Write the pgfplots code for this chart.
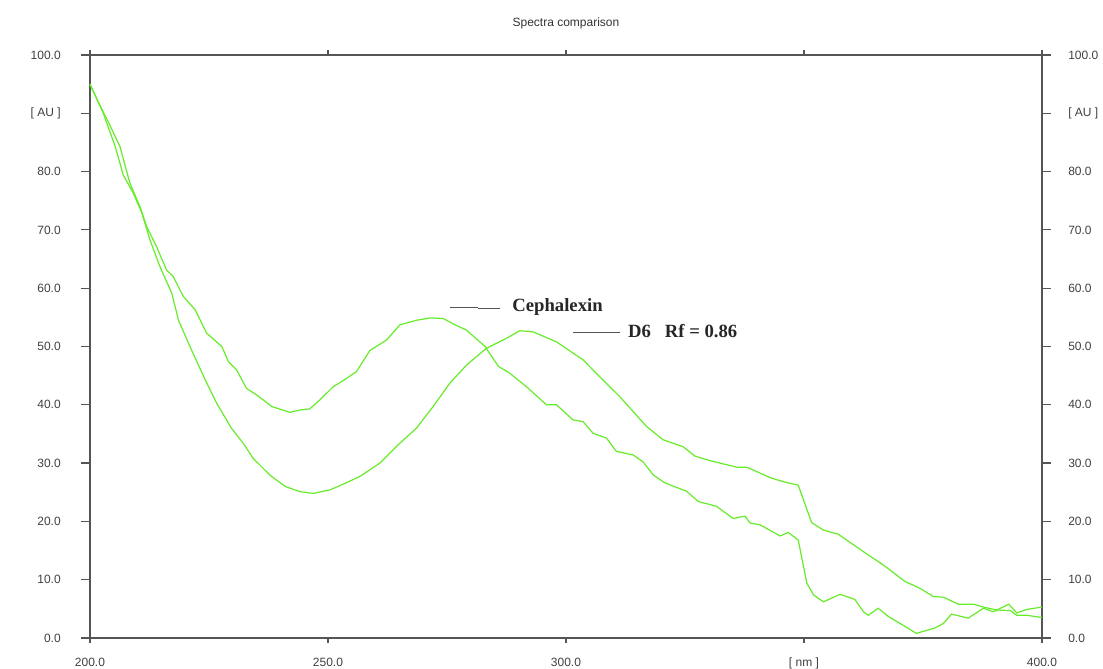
\documentclass[border=0pt]{standalone}
\usepackage{pgfplots}
\pgfplotsset{compat=1.18}
\usepackage{fontspec}
\setmainfont{Liberation Sans}
\newfontfamily\timesb{Liberation Serif}
\definecolor{spec}{RGB}{102,236,40}
\definecolor{axgray}{RGB}{85,85,85}

\pgfplotstableread{
x y
200.0 95.0
202.0 91.5
203.8 88.6
206.3 84.3
208.4 78.0
210.5 74.0
211.9 70.6
214.0 67.1
216.1 63.1
217.5 62.0
219.6 58.6
222.1 56.3
224.5 52.3
227.7 50.0
229.1 47.4
230.8 46.0
232.9 42.8
235.0 41.7
238.2 39.7
242.0 38.7
244.1 39.1
246.2 39.3
248.5 41.0
251.1 43.1
253.5 44.3
256.0 45.7
258.8 49.3
262.3 51.1
265.1 53.7
268.6 54.5
271.5 54.9
274.2 54.8
276.5 53.8
279.1 52.8
283.0 50.0
285.8 46.6
288.2 45.4
291.7 43.1
295.9 40.0
298.0 40.0
301.5 37.4
303.6 37.1
305.7 35.1
308.5 34.3
310.6 32.0
314.1 31.4
316.2 30.2
318.3 28.0
320.4 26.8
321.1 26.5
324.6 25.4
325.3 25.2
327.8 23.4
331.6 22.6
335.1 20.5
337.6 20.9
338.7 19.7
340.8 19.4
345.0 17.5
346.7 18.1
348.8 16.8
350.6 9.4
352.0 7.4
354.1 6.2
357.6 7.5
360.7 6.6
362.5 4.5
363.5 3.9
365.6 5.1
367.7 3.7
370.8 2.2
373.6 0.8
377.5 1.7
379.3 2.5
381.0 4.1
384.5 3.4
387.7 5.1
389.8 4.5
393.0 5.8
394.7 4.3
396.8 4.9
400.0 5.3
}\cephalexin

\pgfplotstableread{
x y
200.0 95.0
202.8 90.0
205.3 84.3
207.0 79.4
209.1 76.3
210.9 72.9
212.6 68.3
214.7 63.7
217.2 59.1
218.6 54.5
221.0 50.0
224.2 44.3
226.6 40.3
229.7 36.0
232.2 33.4
234.3 30.8
238.0 27.8
241.0 26.0
244.1 25.1
246.9 24.8
250.4 25.4
253.5 26.5
256.7 27.7
260.9 30.0
265.1 33.4
268.6 36.0
272.1 39.7
275.6 43.7
279.1 46.8
283.3 49.7
287.5 51.4
290.3 52.7
293.1 52.5
298.0 50.8
303.6 47.7
307.1 44.8
311.3 41.4
316.9 36.3
320.4 34.0
324.6 32.8
327.1 31.2
330.3 30.4
335.9 29.3
338.0 29.3
342.9 27.5
345.7 26.8
348.8 26.2
349.9 23.7
351.6 19.8
354.1 18.5
357.2 17.8
362.5 14.8
366.7 12.5
371.2 9.7
374.4 8.5
377.2 7.1
379.3 7.0
382.4 5.8
385.6 5.8
387.7 5.3
390.5 4.8
393.3 4.7
394.7 3.9
396.8 3.9
400.0 3.5
}\dsix

\begin{document}
\begin{tikzpicture}
\begin{axis}[
  scale only axis,
  width=714pt, height=437.25pt,
  xmin=200, xmax=400, ymin=0, ymax=100,
  xtick={200,250,300,350,400},
  xticklabels={200.0,250.0,300.0,{[ nm ]},400.0},
  ytick={0,10,...,100},
  yticklabels={0.0,10.0,20.0,30.0,40.0,50.0,60.0,70.0,80.0,{[ AU ]},100.0},
  tick align=outside,
  major tick length=6.75pt,
  xtick style={/pgfplots/major tick length=3.75pt},
  tick style={draw=axgray, line width=0.9pt},
  axis line style={draw=axgray, line width=0.9pt},
  every tick label/.append style={font=\fontsize{9}{10}\selectfont, text=black!75, inner sep=0pt},
  yticklabel style={xshift=-15pt},
  xticklabel style={yshift=-8pt},
  /pgf/number format/assume math mode=true,
  clip=false,
]
\addplot[spec, line width=0.9pt] table[x=x,y=y] {\cephalexin};
\addplot[spec, line width=0.9pt] table[x=x,y=y] {\dsix};
\draw[axgray, line width=0.9pt] (axis cs:275.6,56.65) -- (axis cs:281.5,56.65);
\draw[axgray, line width=0.9pt] (axis cs:281.5,56.48) -- (axis cs:286.1,56.48);
\node[anchor=west, inner sep=0pt, font=\timesb\bfseries\fontsize{14}{16}\selectfont, text=black!85] at (axis cs:288.7,56.8) {Cephalexin};
\draw[axgray, line width=0.9pt] (axis cs:301.5,52.4) -- (axis cs:311.3,52.4);
\node[anchor=west, inner sep=0pt, font=\timesb\bfseries\fontsize{14}{16}\selectfont, text=black!85] at (axis cs:313.0,52.6) {D6\ \ \ Rf = 0.86};
\node[font=\fontsize{9}{10}\selectfont, text=black!80] at (rel axis cs:0.5,1.0549) {Spectra comparison};
\coordinate (BL) at (rel axis cs:-0.0945,-0.0515);
\coordinate (TR) at (rel axis cs:1.0641,1.0943);
\end{axis}
\begin{axis}[
  scale only axis,
  width=714pt, height=437.25pt,
  xmin=200, xmax=400, ymin=0, ymax=100,
  xtick=\empty,
  ytick={0,10,...,100},
  yticklabels={0.0,10.0,20.0,30.0,40.0,50.0,60.0,70.0,80.0,{[ AU ]},100.0},
  yticklabel pos=right,
  tick align=outside,
  major tick length=6.75pt,
  tick style={draw=none},
  axis line style={draw=none},
  every tick label/.append style={font=\fontsize{9}{10}\selectfont, text=black!75, inner sep=0pt},
  yticklabel style={xshift=12.75pt},
  /pgf/number format/assume math mode=true,
]
\end{axis}
\pgfresetboundingbox
\path[use as bounding box] (BL) rectangle (TR);
\end{tikzpicture}
\end{document}
